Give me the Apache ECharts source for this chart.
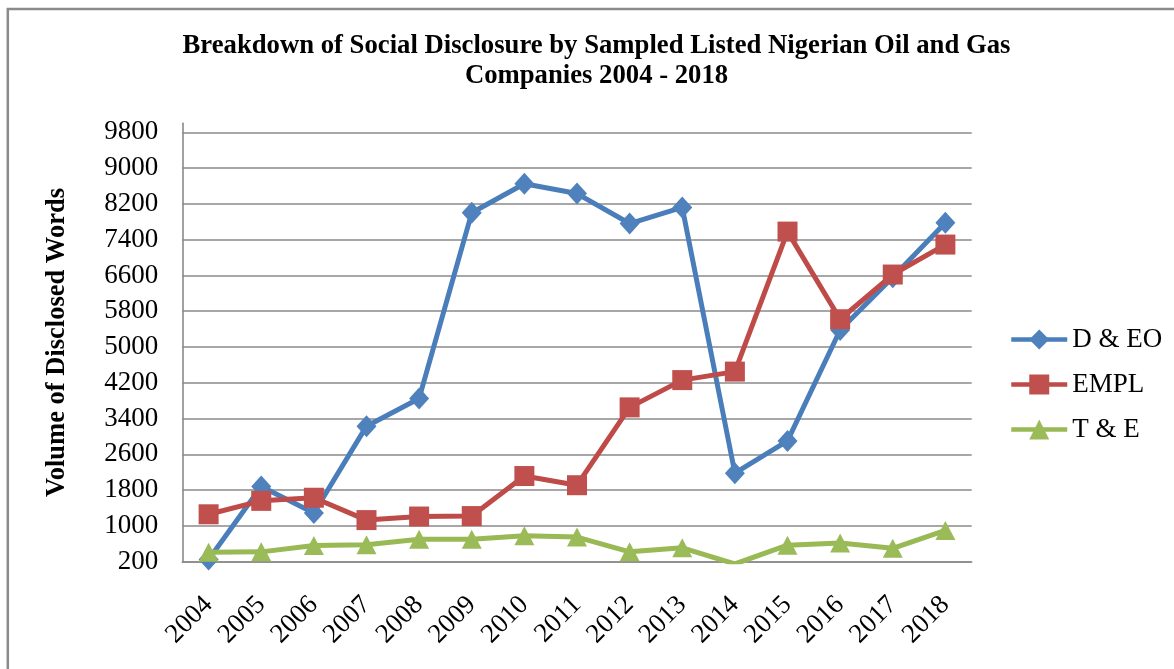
<!DOCTYPE html>
<html>
<head>
<meta charset="utf-8">
<title>Breakdown of Social Disclosure</title>
<script src="https://cdn.jsdelivr.net/npm/echarts@6/dist/echarts.min.js"></script>
<style>
  html, body { margin: 0; padding: 0; background: #ffffff; }
  #chart { width: 1174px; height: 669px; }
</style>
</head>
<body>
<div id="chart"></div>
<script>
// Years on the category axis
const years = ['2004', '2005', '2006', '2007', '2008', '2009', '2010', '2011',
               '2012', '2013', '2014', '2015', '2016', '2017', '2018'];

// Volume of disclosed words per theme
const dEO  = [250, 1880, 1290, 3230, 3850, 8000, 8650, 8430, 7760, 8120, 2180, 2900, 5380, 6560, 7780];
const empl = [1260, 1560, 1630, 1130, 1210, 1220, 2115, 1910, 3650, 4260, 4450, 7580, 5620, 6620, 7290];
const tE   = [410, 420, 560, 580, 700, 700, 780, 750, 420, 510, 150, 570, 620, 500, 900];

// Series names shown in the legend
const seriesNames = ['D & EO', 'EMPL', 'T & E'];

// Value axis range
const yMin = 200;
const yMax = 10000;
const yStep = 800;

const serif = '"Liberation Serif", "Times New Roman", serif';
const gridGray = '#8a8a8a';

// One colour per split line; the top edge of the range carries no gridline
const splitColors = [];
for (let v = yMin; v < yMax; v += yStep) splitColors.push(gridGray);
splitColors.push('transparent');

const chart = echarts.init(document.getElementById('chart'), null, { renderer: 'canvas' });

chart.setOption({
  animation: false,
  backgroundColor: '#ffffff',
  title: {
    text: 'Breakdown of Social Disclosure by Sampled Listed Nigerian Oil and Gas\nCompanies 2004 - 2018',
    left: 596.5,
    top: 31,
    padding: 0,
    textAlign: 'center',
    textStyle: {
      fontFamily: serif,
      fontWeight: 'bold',
      fontSize: 26.7,
      lineHeight: 30,
      color: '#000000'
    }
  },
  graphic: [{
    type: 'rect',
    silent: true,
    shape: { x: 7.8, y: 9, width: 1200, height: 700 },
    style: { fill: 'none', stroke: '#8a8a8a', lineWidth: 2.5 }
  }],
  legend: {
    orient: 'vertical',
    left: 1004,
    top: 321,
    itemWidth: 56,
    itemHeight: 25,
    itemGap: 18,
    lineStyle: { width: 4.5 },
    textStyle: { fontFamily: serif, fontSize: 27, color: '#000000' },
    data: seriesNames
  },
  grid: {
    left: 182.3,
    right: 202.3,
    top: 123.35,
    bottom: 107.3,
    containLabel: false
  },
  xAxis: {
    type: 'category',
    data: years,
    boundaryGap: true,
    axisLine: { lineStyle: { color: gridGray, width: 1.6 } },
    axisTick: { show: false },
    axisLabel: {
      interval: 0,
      rotate: 45,
      margin: 39,
      fontFamily: serif,
      fontSize: 27,
      color: '#000000'
    }
  },
  yAxis: {
    type: 'value',
    min: yMin,
    max: yMax,
    interval: yStep,
    name: 'Volume of Disclosed Words',
    nameLocation: 'middle',
    nameGap: 112,
    nameTextStyle: {
      fontFamily: serif,
      fontWeight: 'bold',
      fontSize: 26.5,
      color: '#000000'
    },
    axisLine: { show: true, lineStyle: { color: gridGray, width: 1.6 } },
    axisTick: { show: false },
    axisLabel: {
      margin: 24,
      fontFamily: serif,
      fontSize: 27,
      color: '#000000',
      formatter: function (v) { return v >= yMax ? '' : String(v); }
    },
    splitLine: { show: true, lineStyle: { color: splitColors, width: 1.6 } }
  },
  series: [
    {
      name: seriesNames[0],
      type: 'line',
      data: dEO,
      symbol: 'diamond',
      symbolSize: [20, 22],
      lineStyle: { color: '#4a7ebb', width: 5, join: 'round' },
      itemStyle: { color: '#4f81bd' },
      clip: true
    },
    {
      name: seriesNames[1],
      type: 'line',
      data: empl,
      symbol: 'rect',
      symbolSize: 20,
      lineStyle: { color: '#be4b48', width: 5, join: 'round' },
      itemStyle: { color: '#c0504d' },
      clip: true
    },
    {
      name: seriesNames[2],
      type: 'line',
      data: tE,
      symbol: 'triangle',
      symbolSize: [20, 19],
      lineStyle: { color: '#98b954', width: 5, join: 'round' },
      itemStyle: { color: '#9bbb59' },
      clip: true
    }
  ]
});
</script>
</body>
</html>
